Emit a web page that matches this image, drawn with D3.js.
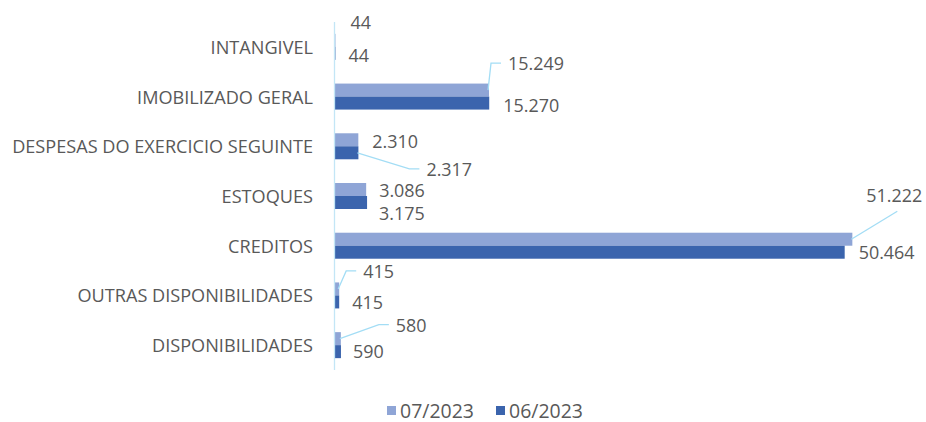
<!DOCTYPE html>
<html><head><meta charset="utf-8">
<script src="https://cdn.jsdelivr.net/npm/d3@7"></script>
<style>
html,body{margin:0;padding:0;background:#fff;}
svg text{font-family:"Open Sans",sans-serif;fill:#595959;}
</style></head>
<body>
<svg id="chart" width="926" height="422"></svg>
<script>
const categories = ["INTANGIVEL","IMOBILIZADO GERAL","DESPESAS DO EXERCICIO SEGUINTE","ESTOQUES","CREDITOS","OUTRAS DISPONIBILIDADES","DISPONIBILIDADES"];
const seriesNames = ["07/2023","06/2023"];
const values0723 = [44, 15249, 2310, 3086, 51222, 415, 580];
const values0623 = [44, 15270, 2317, 3175, 50464, 415, 590];
const labels0723 = ["44","15.249","2.310","3.086","51.222","415","580"];
const labels0623 = ["44","15.270","2.317","3.175","50.464","415","590"];
const colors = ["#8FA5D6","#3B64AD"];

// label placement (layout only): offsets from bar end / bar center, leader type
const labelLayout0723 = [
  {dx:15,dy:-18},{dx:19,dy:-27,lead:"side"},{dx:14,dy:1},{dx:13,dy:0},
  {dx:14,dy:-44,lead:"bottom"},{dx:24,dy:-18,lead:"side"},{dx:55,dy:-14,lead:"side"}];
const labelLayout0623 = [
  {dx:13,dy:2},{dx:14,dy:2},{dx:68,dy:16,lead:"side"},{dx:12,dy:10},
  {dx:14,dy:0},{dx:13,dy:0},{dx:12,dy:-1}];

const svg = d3.select("#chart");
const x = d3.scaleLinear().domain([0,60000]).range([335, 335+0.0101*60000]);
const y = d3.scaleBand().domain(categories).range([22,370]);
const ys = d3.scaleBand().domain(seriesNames).range([0,26]);
const barOff = y.bandwidth()/2 - 13;

// font fitting helper
function fitSize(sample, targetW, base){
  const t = svg.append("text").style("font-size",base+"px").text(sample);
  const w = t.node().getComputedTextLength(); t.remove();
  return base*targetW/w;
}
const catSize = fitSize("DESPESAS DO EXERCICIO SEGUINTE", 301, 16);
const labSize = fitSize("15.249", 56, 16);
const legSize = fitSize("07/2023", 74, 16);

const seriesData = [
  {name:seriesNames[0], vals:values0723, labs:labels0723, lay:labelLayout0723, color:colors[0]},
  {name:seriesNames[1], vals:values0623, labs:labels0623, lay:labelLayout0623, color:colors[1]}
];

seriesData.forEach(s=>{
  svg.append("g").selectAll("rect").data(categories).join("rect")
    .attr("x", x(0))
    .attr("y", c=>y(c)+barOff+ys(s.name))
    .attr("width", (c,i)=>x(s.vals[i])-x(0))
    .attr("height", ys.bandwidth())
    .attr("fill", s.color);
});

// axis line
svg.append("line").attr("x1",334.5).attr("x2",334.5).attr("y1",22).attr("y2",370)
  .attr("stroke","#C3E6F6").attr("stroke-width",1.3);

// category labels
svg.append("g").selectAll("text").data(categories).join("text")
  .attr("x",313).attr("y",c=>y(c)+y.bandwidth()/2)
  .attr("text-anchor","end").attr("dominant-baseline","central")
  .style("font-size",catSize+"px").text(c=>c);

// data labels with leader lines
const leadG = svg.append("g");
seriesData.forEach(s=>{
  categories.forEach((c,i)=>{
    const bx = x(s.vals[i]);
    const by = y(c)+barOff+ys(s.name)+ys.bandwidth()/2;
    const L = s.lay[i];
    const lx = bx+L.dx, ly = by+L.dy;
    const t = svg.append("text").attr("x",lx).attr("y",ly)
      .attr("dominant-baseline","central").style("font-size",labSize+"px").text(s.labs[i]);
    if(L.lead){
      const w = t.node().getComputedTextLength();
      let pts;
      if(L.lead==="side"){
        pts=[[bx-1,by],[lx-17,ly],[lx-7,ly]];
      } else {
        pts=[[bx-1,by],[lx+w/2+3,ly+16]];
      }
      leadG.append("path").attr("d",d3.line()(pts)).attr("fill","none")
        .attr("stroke","#A3DDF5").attr("stroke-width",1.3);
    }
  });
});

// legend
const leg = svg.append("g");
const legX = [387,496];
seriesData.forEach((s,i)=>{
  leg.append("rect").attr("x",legX[i]).attr("y",406).attr("width",9).attr("height",9).attr("fill",s.color);
  leg.append("text").attr("x",legX[i]+13).attr("y",410.5).attr("dominant-baseline","central")
    .style("font-size",legSize+"px").text(s.name);
});
</script>
</body></html>
